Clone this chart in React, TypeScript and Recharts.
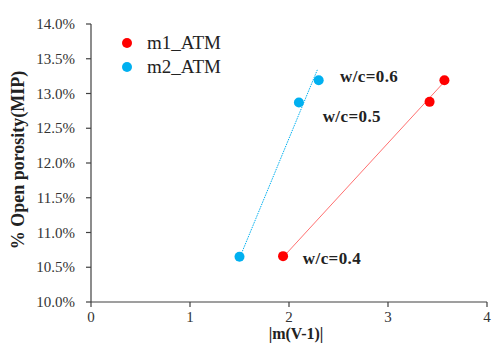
import React from "react";
import { ScatterChart, Scatter, XAxis, YAxis, Legend } from "recharts";

const m1X = [1.94, 3.42, 3.57];
const m1Y = [0.1066, 0.1288, 0.1319];
const m2X = [1.5, 2.1, 2.3];
const m2Y = [0.1065, 0.1287, 0.1319];

const m1TrendX = [1.95, 3.57];
const m1TrendY = [0.1066, 0.1317];
const m2TrendX = [1.5, 2.286];
const m2TrendY = [0.1063, 0.1334];

const noteText = ["w/c=0.6", "w/c=0.5", "w/c=0.4"];
const noteX = [2.515, 2.34, 2.14];
const noteY = [0.1324, 0.1267, 0.1062];

const xTicks = [0, 1, 2, 3, 4];
const yTicks = [0.1, 0.105, 0.11, 0.115, 0.12, 0.125, 0.13, 0.135, 0.14];

const seriesNames = ["m1_ATM", "m2_ATM"];
const RED = "#ff0000";
const BLUE = "#00b0f0";

const toPts = (xs: number[], ys: number[]) => xs.map((x, i) => ({ x, y: ys[i] }));
const m1Data = toPts(m1X, m1Y);
const m2Data = toPts(m2X, m2Y);
const m1Trend = toPts(m1TrendX, m1TrendY);
const m2Trend = toPts(m2TrendX, m2TrendY);
const notes = noteX.map((x, i) => ({ x, y: noteY[i], t: noteText[i] }));

const FONT = "'Liberation Serif', 'Times New Roman', serif";

const Dot = (color: string) => (p: any) => (
  <circle cx={p.cx} cy={p.cy} r={5} fill={color} />
);

const NoteShape = (p: any) => (
  <text
    x={p.cx}
    y={p.cy}
    dominantBaseline="central"
    fontFamily={FONT}
    fontWeight="bold"
    fontSize={17}
    letterSpacing={0.4}
    fill="#222"
  >
    {p.payload.t}
  </text>
);

const XTick = (p: any) => (
  <text x={p.x} y={p.y + 13} textAnchor="middle" fontFamily={FONT} fontSize={15} fill="#333">
    {p.payload.value}
  </text>
);

const YTick = (p: any) => (
  <text x={p.x - 9} y={p.y} dy={5} textAnchor="end" fontFamily={FONT} fontSize={15} fill="#333">
    {(p.payload.value * 100).toFixed(1) + "%"}
  </text>
);

const LegendContent = () => (
  <div style={{ fontFamily: FONT, fontSize: 19, color: "#222" }}>
    {seriesNames.map((n, i) => (
      <div key={n} style={{ display: "flex", alignItems: "center", height: 24 }}>
        <span
          style={{
            display: "inline-block",
            width: 10,
            height: 10,
            borderRadius: 5,
            background: i === 0 ? RED : BLUE,
            marginRight: 15,
          }}
        />
        <span>{n}</span>
      </div>
    ))}
  </div>
);

export default function App() {
  return (
    <div style={{ position: "absolute", left: 0, top: 0, width: 492, height: 347, background: "#fff", fontFamily: FONT }}>
      <ScatterChart width={492} height={347} margin={{ top: 24, right: 5, left: 0, bottom: 0 }}>
        <XAxis
          type="number"
          dataKey="x"
          domain={[0, 4]}
          ticks={xTicks}
          tick={XTick}
          tickSize={5}
          height={45}
          stroke="#404040"
          strokeWidth={1.2}
          allowDataOverflow
        />
        <YAxis
          type="number"
          dataKey="y"
          domain={[0.1, 0.14]}
          ticks={yTicks}
          tick={YTick}
          tickSize={5}
          width={91}
          stroke="#404040"
          strokeWidth={1.2}
          allowDataOverflow
        />
        <Legend
          layout="horizontal"
          verticalAlign="middle"
          align="center"
          content={LegendContent}
          wrapperStyle={{ left: 122, top: 31, width: 130 }}
        />
        <Scatter
          data={m2Trend}
          line={{ stroke: BLUE, strokeWidth: 1, strokeDasharray: "1.5 1" }}
          shape={() => <g />}
          isAnimationActive={false}
          legendType="none"
        />
        <Scatter
          data={m1Trend}
          line={{ stroke: "#ff7070", strokeWidth: 1 }}
          shape={() => <g />}
          isAnimationActive={false}
          legendType="none"
        />
        <Scatter name={seriesNames[0]} data={m1Data} fill={RED} shape={Dot(RED)} isAnimationActive={false} />
        <Scatter name={seriesNames[1]} data={m2Data} fill={BLUE} shape={Dot(BLUE)} isAnimationActive={false} />
        <Scatter data={notes} shape={NoteShape} isAnimationActive={false} legendType="none" />
      </ScatterChart>
      <svg
        width={492}
        height={347}
        style={{ position: "absolute", left: 0, top: 0, pointerEvents: "none" }}
      >
        <text
          transform="translate(24,160) rotate(-90)"
          textAnchor="middle"
          fontFamily={FONT}
          fontWeight="bold"
          fontSize={18}
          fill="#222"
        >
          % Open porosity(MIP)
        </text>
        <text
          x={296}
          y={339}
          textAnchor="middle"
          fontFamily={FONT}
          fontWeight="bold"
          fontSize={16}
          fill="#222"
        >
          |m(V-1)|
        </text>
      </svg>
    </div>
  );
}
